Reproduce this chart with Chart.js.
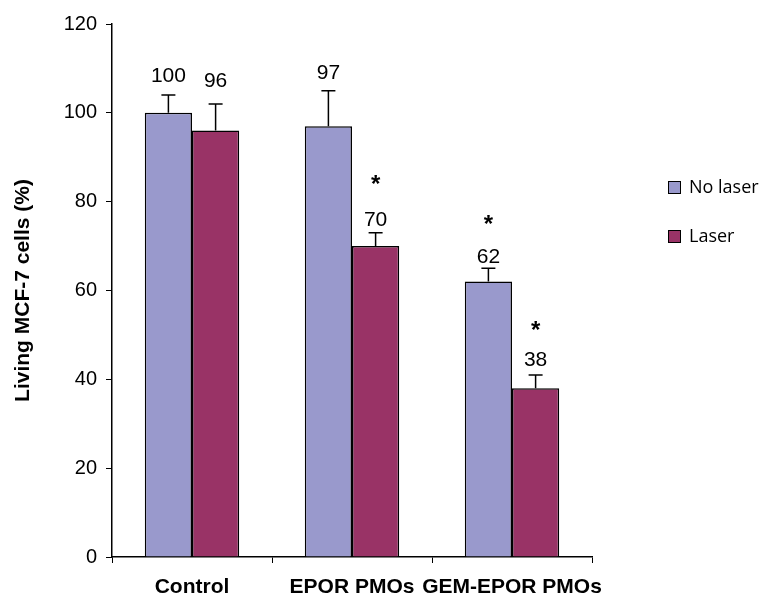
<!DOCTYPE html>
<html lang="en">
<head>
  <meta charset="UTF-8">
  <title>Living MCF-7 cells</title>
  <script src="https://cdn.jsdelivr.net/npm/chart.js"></script>
  <style>
    html, body { margin: 0; padding: 0; background: #fff; }
    #wrap { width: 767px; height: 599px; }
  </style>
</head>
<body>
  <div id="wrap"><canvas id="chart" width="767" height="599"></canvas></div>

  <script>
    // data
    const categories = ['Control', 'EPOR PMOs', 'GEM-EPOR PMOs'];
    const noLaser = [100, 97, 62];
    const laser = [96, 70, 38];
    const noLaserErr = [4, 8, 3];
    const laserErr = [6, 3, 3];
    const noLaserStar = [false, false, true];
    const laserStar = [false, true, true];
    const yTicks = [0, 20, 40, 60, 80, 100, 120];

    const FONT = '"Liberation Sans", Arial, sans-serif';

    // gaps (px) between cap and label centre, and label and star, as placed in the original
    const labelGap = [[19, 17, 11], [23, 13, 15]];
    const starGap = [[0, 0, 35], [0, 37, 32]];

    // error bars, value labels and asterisks
    const annotate = {
      id: 'annotate',
      afterDatasetsDraw(chart) {
        const ctx = chart.ctx;
        const y = chart.scales.y;
        const errs = [noLaserErr, laserErr];
        const stars = [noLaserStar, laserStar];
        chart.data.datasets.forEach((ds, i) => {
          const meta = chart.getDatasetMeta(i);
          meta.data.forEach((bar, j) => {
            const v = ds.data[j];
            const top = y.getPixelForValue(v + errs[i][j]);
            ctx.save();
            ctx.strokeStyle = '#000';
            ctx.lineWidth = 1.5;
            ctx.beginPath();
            ctx.moveTo(bar.x, bar.y);
            ctx.lineTo(bar.x, top);
            ctx.moveTo(bar.x - 7, top);
            ctx.lineTo(bar.x + 7, top);
            ctx.stroke();
            ctx.fillStyle = '#000';
            ctx.textAlign = 'center';
            ctx.textBaseline = 'middle';
            ctx.font = '21px ' + FONT;
            const ly = top - labelGap[i][j];
            ctx.fillText(String(v), bar.x, ly);
            if (stars[i][j]) {
              ctx.font = 'bold 24px ' + FONT;
              ctx.fillText('*', bar.x, ly - starGap[i][j] + 3);
            }
            ctx.restore();
          });
        });
      }
    };

    // legend on the right
    const sideLegend = {
      id: 'sideLegend',
      afterDraw(chart) {
        const ctx = chart.ctx;
        ctx.save();
        ctx.font = '18px "Open Sans", sans-serif';
        ctx.textBaseline = 'middle';
        chart.data.datasets.forEach((ds, i) => {
          const yy = 188 + i * 49;
          ctx.fillStyle = ds.backgroundColor;
          ctx.fillRect(668, yy - 7, 13, 13);
          ctx.strokeStyle = '#000';
          ctx.lineWidth = 1;
          ctx.strokeRect(668.5, yy - 6.5, 12, 12);
          ctx.fillStyle = '#000';
          ctx.fillText(ds.label, 689, yy);
        });
        ctx.restore();
      }
    };

    new Chart(document.getElementById('chart'), {
      type: 'bar',
      data: {
        labels: categories,
        datasets: [
          {
            label: 'No laser',
            data: noLaser,
            backgroundColor: '#9999cc',
            borderColor: '#000',
            borderWidth: 1.5,
            categoryPercentage: 0.59,
            barPercentage: 1
          },
          {
            label: 'Laser',
            data: laser,
            backgroundColor: '#993366',
            borderColor: '#000',
            borderWidth: 1.5,
            categoryPercentage: 0.59,
            barPercentage: 1
          }
        ]
      },
      options: {
        responsive: false,
        animation: false,
        layout: { padding: { top: 24, right: 175, left: 0, bottom: 0 } },
        plugins: {
          legend: { display: false },
          tooltip: { enabled: false }
        },
        scales: {
          x: {
            grid: { offset: true, drawOnChartArea: false, color: '#000', tickLength: 6 },
            border: { color: '#000', width: 1.5 },
            ticks: {
              color: '#000', padding: 12, autoSkip: false, maxRotation: 0, minRotation: 0,
              font: { family: FONT, size: 21, weight: 'bold' }
            },
            afterFit(scale) { scale.height = 42; }
          },
          y: {
            min: 0,
            max: 120,
            afterBuildTicks(scale) { scale.ticks = yTicks.map(v => ({ value: v })); },
            grid: { drawOnChartArea: false, color: '#000', tickLength: 6 },
            border: { color: '#000', width: 1.5 },
            ticks: { color: '#000', padding: 9, font: { family: FONT, size: 20 } },
            title: {
              display: true,
              text: 'Living MCF-7 cells (%)',
              color: '#000',
              padding: { top: 11, bottom: 8 },
              font: { family: FONT, size: 21, weight: 'bold' }
            },
            afterFit(scale) { scale.width = 112; }
          }
        }
      },
      plugins: [annotate, sideLegend]
    });
  </script>
</body>
</html>
